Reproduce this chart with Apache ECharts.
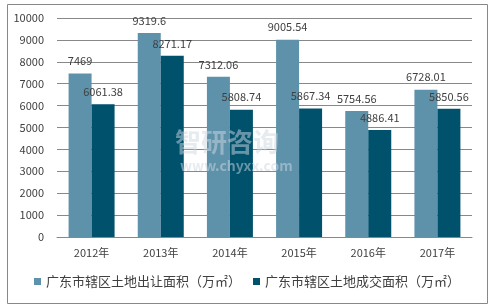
<!DOCTYPE html>
<html><head><meta charset="utf-8">
<script src="https://cdn.jsdelivr.net/npm/echarts@6/dist/echarts.min.js"></script>
<style>html,body{margin:0;padding:0;background:#fff}#c{width:494px;height:308px}</style>
</head><body><div id="c"></div>
<script>
const categories = ['2012年','2013年','2014年','2015年','2016年','2017年'];
const seriesNames = ['广东市辖区土地出让面积（万㎡）','广东市辖区土地成交面积（万㎡）'];
const transferArea = [7469, 9319.6, 7312.06, 9005.54, 5754.56, 6728.01];
const dealArea = [6061.38, 8271.17, 5808.74, 5867.34, 4886.41, 5850.56];
const yTicks = [0,1000,2000,3000,4000,5000,6000,7000,8000,9000,10000];

const font = '"Noto Sans CJK SC", "Noto Sans", sans-serif';
const chart = echarts.init(document.getElementById('c'));
chart.setOption({
  animation: false,
  textStyle: {fontFamily: font},
  grid: {left: 57, right: 22, top: 18, bottom: 71, containLabel: false},
  graphic: [
    {type:'rect', shape:{x:7.5,y:4.5,width:480,height:299}, style:{fill:'none', stroke:'#888', lineWidth:1}, silent:true},
    {type:'text', left:175, top:129, style:{text:'智研咨询', font:'bold 26px '+font, fill:'rgba(205,215,225,0.5)'}, z:100},
    {type:'text', left:180, top:159, style:{text:'www.chyxx.com', font:'bold 14px '+font, fill:'rgba(205,215,225,0.5)'}, z:100}
  ],
  legend: {
    bottom: 15, left: 'center', itemWidth: 7, itemHeight: 7, itemGap: 12,
    icon: 'rect',
    textStyle: {fontSize: 13, color: '#404040', fontFamily: font},
    data: seriesNames
  },
  xAxis: {
    type: 'category', data: categories,
    axisLine: {lineStyle: {color: '#888'}},
    axisTick: {show: false},
    axisLabel: {color: '#404040', fontSize: 11, margin: 10}
  },
  yAxis: {
    type: 'value', min: yTicks[0], max: yTicks[yTicks.length-1], interval: 1000,
    axisLine: {show: false}, axisTick: {show: false},
    axisLabel: {color: '#404040', fontSize: 11, margin: 13, formatter: v => String(v)},
    splitLine: {lineStyle: {color: '#888'}}
  },
  series: [
    {name: seriesNames[0], type: 'bar', data: transferArea, barWidth: 23, barGap: '0%',
     itemStyle: {color: '#5e92aa'},
     label: {show: true, position: 'top', distance: 7, color: '#404040', fontSize: 11}},
    {name: seriesNames[1], type: 'bar', data: dealArea, barWidth: 23,
     itemStyle: {color: '#00516c'},
     label: {show: true, position: 'top', distance: 7, color: '#404040', fontSize: 11}}
  ]
});
</script></body></html>
